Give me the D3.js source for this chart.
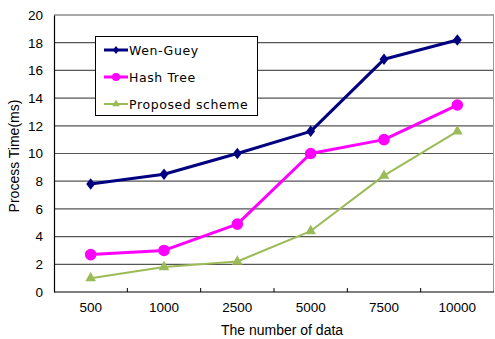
<!DOCTYPE html>
<html>
<head>
<meta charset="utf-8">
<script src="https://cdn.jsdelivr.net/npm/d3@7"></script>
<style>
  html, body { margin: 0; padding: 0; background: #fff; }
  svg { display: block; }
</style>
</head>
<body>
<svg id="chart" width="495" height="339"></svg>
<script>
// Data sizes on the x axis (categorical)
const categories = ["500", "1000", "2500", "5000", "7500", "10000"];
const yTicks = [0, 2, 4, 6, 8, 10, 12, 14, 16, 18, 20];

// Processing time (ms) per method
const wenGuey = [7.8, 8.5, 10.0, 11.6, 16.8, 18.2];
const hashTree = [2.7, 3.0, 4.9, 10.0, 11.0, 13.5];
const proposed = [1.0, 1.8, 2.2, 4.4, 8.4, 11.6];

const seriesNames = ["Wen-Guey", "Hash Tree", "Proposed scheme"];

const series = [
  { name: seriesNames[0], values: wenGuey, color: "#000080", width: 3, symbol: d3.symbolDiamond, size: 38, sx: 1.35 },
  { name: seriesNames[1], values: hashTree, color: "#FF00FF", width: 3, symbol: d3.symbolCircle, size: 105, sx: 1 },
  { name: seriesNames[2], values: proposed, color: "#9BBB59", width: 2, symbol: d3.symbolTriangle, size: 50, sx: 1 }
];

const svg = d3.select("#chart");
const margin = { left: 54, right: 1, top: 15, bottom: 47 };
const W = 495, H = 339;

const x = d3.scaleBand().domain(categories).range([margin.left, W - margin.right]);
const y = d3.scaleLinear().domain([0, 20]).range([H - margin.bottom, margin.top]);

// Horizontal gridlines
svg.append("g")
  .selectAll("line")
  .data(yTicks.filter(d => d > 0))
  .join("line")
  .attr("x1", margin.left).attr("x2", W - margin.right)
  .attr("y1", d => y(d)).attr("y2", d => y(d))
  .attr("stroke", "#555").attr("stroke-width", 1.2);

// Right border of the plot area
svg.append("line")
  .attr("x1", W - margin.right - 0.5).attr("x2", W - margin.right - 0.5)
  .attr("y1", y(20)).attr("y2", y(0))
  .attr("stroke", "#999").attr("stroke-width", 1);

// Y axis
const yAxis = svg.append("g")
  .attr("transform", `translate(${margin.left},0)`)
  .call(d3.axisLeft(y).tickValues(yTicks).tickSize(0).tickPadding(11));
yAxis.select(".domain").attr("stroke", "#000").attr("stroke-width", 1.2);
yAxis.selectAll("text")
  .attr("font-family", "Liberation Sans, Arial, sans-serif")
  .attr("font-size", "13.5px").attr("fill", "#000");

// X axis with inward ticks between categories
const xAxisG = svg.append("g").attr("transform", `translate(0,${y(0)})`);
xAxisG.append("line")
  .attr("x1", margin.left).attr("x2", W - margin.right)
  .attr("stroke", "#000").attr("stroke-width", 1.2);
xAxisG.selectAll("line.tick")
  .data(categories.slice(1))
  .join("line")
  .attr("class", "tick")
  .attr("x1", d => x(d)).attr("x2", d => x(d))
  .attr("y1", 0).attr("y2", -4)
  .attr("stroke", "#000");
xAxisG.selectAll("text")
  .data(categories)
  .join("text")
  .attr("x", d => x(d) + x.bandwidth() / 2)
  .attr("y", 20)
  .attr("text-anchor", "middle")
  .attr("font-family", "Liberation Sans, Arial, sans-serif")
  .attr("font-size", "13.5px")
  .text(d => d);

// Axis titles
svg.append("text")
  .attr("x", (margin.left + W - margin.right) / 2 + 8)
  .attr("y", 335)
  .attr("text-anchor", "middle")
  .attr("font-family", "Liberation Sans, Arial, sans-serif")
  .attr("font-size", "14px")
  .text("The number of data");

svg.append("text")
  .attr("transform", `translate(19,${156}) rotate(-90)`)
  .attr("text-anchor", "middle")
  .attr("font-family", "Liberation Sans, Arial, sans-serif")
  .attr("font-size", "14px")
  .text("Process Time(ms)");

// Lines and markers
const line = d3.line()
  .x((d, i) => x(categories[i]) + x.bandwidth() / 2)
  .y(d => y(d));

series.forEach(s => {
  svg.append("path")
    .datum(s.values)
    .attr("fill", "none")
    .attr("stroke", s.color)
    .attr("stroke-width", s.width)
    .attr("stroke-linejoin", "round")
    .attr("d", line);
  svg.append("g")
    .selectAll("path")
    .data(s.values)
    .join("path")
    .attr("transform", (d, i) => `translate(${x(categories[i]) + x.bandwidth() / 2},${y(d)}) scale(${s.sx},1)`)
    .attr("d", d3.symbol().type(s.symbol).size(s.size))
    .attr("fill", s.color);
});

// Legend
const legend = svg.append("g");
legend.append("rect")
  .attr("x", 95.5).attr("y", 36.5)
  .attr("width", 162).attr("height", 79)
  .attr("fill", "#fff").attr("stroke", "#000").attr("stroke-width", 1);

series.forEach((s, i) => {
  const ly = 50 + i * 27;
  legend.append("line")
    .attr("x1", 104).attr("x2", 128)
    .attr("y1", ly).attr("y2", ly)
    .attr("stroke", s.color).attr("stroke-width", s.width);
  legend.append("path")
    .attr("transform", `translate(116,${ly}) scale(${s.sx},1)`)
    .attr("d", d3.symbol().type(s.symbol).size(s.size * 0.5))
    .attr("fill", s.color);
  legend.append("text")
    .attr("x", 129).attr("y", ly + 4.5)
    .attr("font-family", "DejaVu Sans, sans-serif")
    .attr("font-size", "12.5px")
    .attr("letter-spacing", "0.6px")
    .text(s.name);
});
</script>
</body>
</html>
